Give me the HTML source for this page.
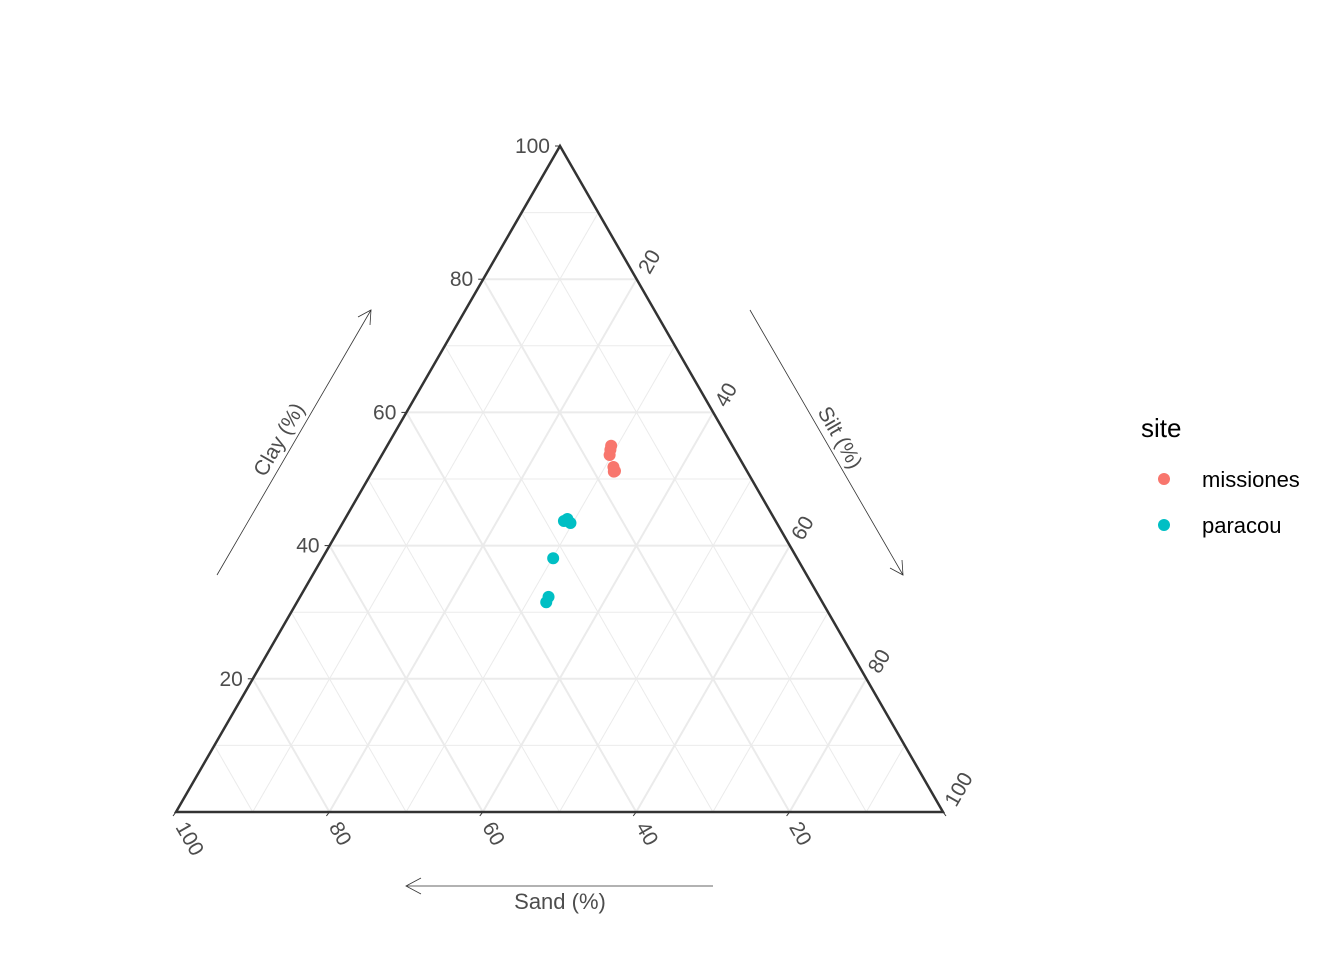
<!DOCTYPE html>
<html><head><meta charset="utf-8"><style>
body{margin:0;background:#fff;}
svg{display:block;font-family:"Liberation Sans",sans-serif;}
</style></head><body>
<svg id="chart" width="1344" height="960" viewBox="0 0 1344 960">
<g id="grid"></g>
<g id="frame"></g>
<g id="ticks"></g>
<g id="pts"></g>
<g>
<line x1="217" y1="575" x2="371" y2="310" stroke="#333" stroke-width="0.8"/>
<polyline points="358,317 371,310 370,325" fill="none" stroke="#333" stroke-width="0.8"/>
<text x="285" y="443" font-size="21" fill="#4d4d4d" text-anchor="middle" transform="rotate(-60 285 443)">Clay (%)</text>
</g>
<g>
<line x1="750" y1="310" x2="903" y2="575" stroke="#333" stroke-width="0.8"/>
<polyline points="890,568 903,575 902,560" fill="none" stroke="#333" stroke-width="0.8"/>
<text x="834" y="441" font-size="21" fill="#4d4d4d" text-anchor="middle" transform="rotate(60 834 441)">Silt (%)</text>
</g>
<g>
<line x1="713" y1="886" x2="406" y2="886" stroke="#333" stroke-width="0.8"/>
<polyline points="421,878 406,886 421,894" fill="none" stroke="#333" stroke-width="0.8"/>
<text x="560" y="909" font-size="22" fill="#4d4d4d" text-anchor="middle">Sand (%)</text>
</g>
<g>
<text x="1141" y="437" font-size="26" fill="#000">site</text>
<circle cx="1164" cy="479" r="6" fill="#F8766D"/>
<text x="1202" y="487" font-size="22" fill="#000">missiones</text>
<circle cx="1164" cy="525" r="6" fill="#00BFC4"/>
<text x="1202" y="533" font-size="22" fill="#000">paracou</text>
</g>
</svg>
<script>
const sites=["missiones","paracou"];
const colors=["#F8766D","#00BFC4"];
const ptSite=[0,0,0,0,0,0,1,1,1,1,1,1];
const clay=[55.0,54.4,53.6,51.8,51.2,51.1,43.7,44.0,43.4,38.1,32.3,31.5];
const silt=[29.2,29.4,29.7,31.1,31.6,31.5,28.7,29.0,29.7,30.1,32.4,32.5];
const sand=[15.8,16.2,16.7,17.1,17.2,17.4,27.6,27.0,26.9,31.8,35.3,36.0];
const tickVals=[20,40,60,80,100];
const L=[176,812],R=[943,812],T=[560,146];
const NS="http://www.w3.org/2000/svg";
function pos(sa,si,cl){const t=sa+si+cl;return [(L[0]*sa+R[0]*si+T[0]*cl)/t,(L[1]*sa+R[1]*si+T[1]*cl)/t];}
function mk(tag,a,parent){const e=document.createElementNS(NS,tag);for(const k in a)e.setAttribute(k,a[k]);parent.appendChild(e);return e;}
const grid=document.getElementById('grid');
for(let v=10;v<100;v+=10){
  const major=v%20===0;
  const st={stroke:"#ebebeb","stroke-width":major?2:1,fill:"none"};
  let a=pos(100-v,0,v),b=pos(0,100-v,v);
  let l=mk('line',Object.assign({x1:a[0],y1:a[1],x2:b[0],y2:b[1]},st),grid);
  
  
  a=pos(100-v,v,0);b=pos(0,v,100-v);
  l=mk('line',Object.assign({x1:a[0],y1:a[1],x2:b[0],y2:b[1]},st),grid);
  
  
  a=pos(v,100-v,0);b=pos(v,0,100-v);
  l=mk('line',Object.assign({x1:a[0],y1:a[1],x2:b[0],y2:b[1]},st),grid);
  
  
}
const frame=document.getElementById('frame');
const tri=mk('polygon',{points:`${L} ${R} ${T}`,fill:"none",stroke:"#333","stroke-width":2.5},frame);


const tk=document.getElementById('ticks');
tickVals.forEach(v=>{
  let p=pos(100-v,0,v);
  mk('line',{x1:p[0],y1:p[1],x2:p[0]-5,y2:p[1],stroke:"#333","stroke-width":1},tk);
  let t=mk('text',{x:p[0]-10,y:p[1]+7,"font-size":21,fill:"#4d4d4d","text-anchor":"end"},tk);
  t.textContent=v;
  
  
  p=pos(0,v,100-v);
  mk('line',{x1:p[0],y1:p[1],x2:p[0]+3,y2:p[1]+4,stroke:"#333","stroke-width":1},tk);
  const sx=p[0]+13,sy=p[1]-4;
  t=mk('text',{x:sx,y:sy,"font-size":21,fill:"#4d4d4d",transform:`rotate(-60 ${sx} ${sy})`},tk);
  t.textContent=v;
  
  
  p=pos(v,100-v,0);
  mk('line',{x1:p[0],y1:p[1],x2:p[0]-3,y2:p[1]+4,stroke:"#333","stroke-width":1},tk);
  const bx=p[0]-1,by=p[1]+15;
  t=mk('text',{x:bx,y:by,"font-size":21,fill:"#4d4d4d",transform:`rotate(60 ${bx} ${by})`},tk);
  t.textContent=v;
  
  
});
const pts=document.getElementById('pts');
clay.forEach((c,i)=>{
  const p=pos(sand[i],silt[i],c);
  const e=mk('circle',{cx:p[0],cy:p[1],r:6,fill:colors[ptSite[i]]},pts);
  
  
});
</script>
</body></html>
